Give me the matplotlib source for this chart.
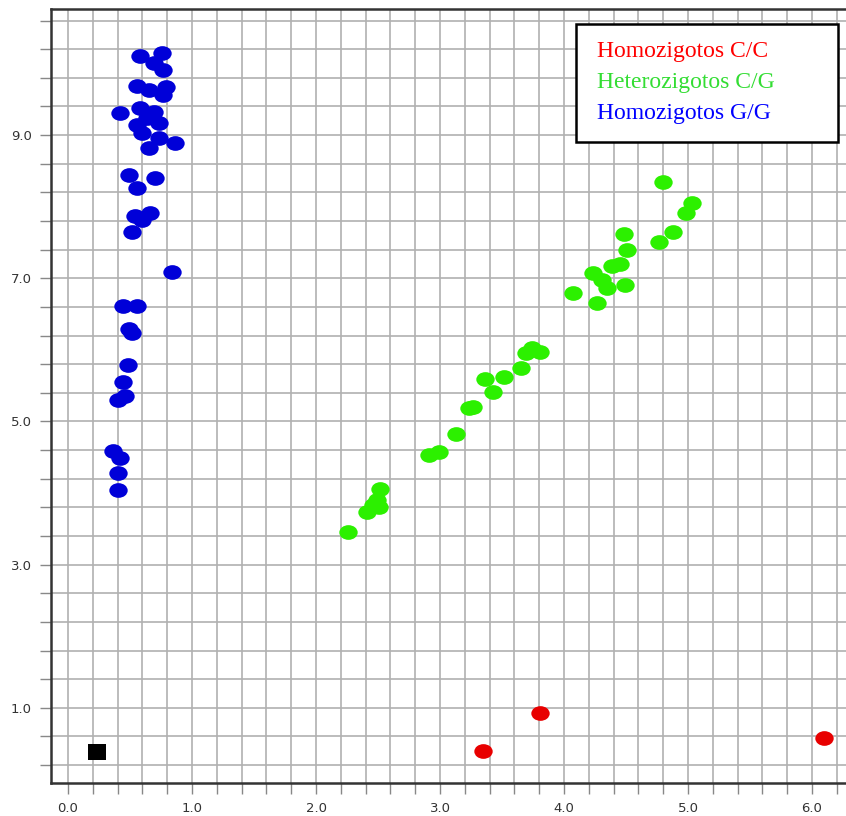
import matplotlib
matplotlib.use("Agg")
import matplotlib.pyplot as plt
import numpy as np
from matplotlib.path import Path
from matplotlib.transforms import Affine2D
from matplotlib.patches import Rectangle

# genotype clusters (x, y)
gg_x = [0.58, 0.76, 0.69, 0.77, 0.56, 0.65, 0.79, 0.77, 0.42, 0.58, 0.69, 0.56, 0.64,
        0.73, 0.60, 0.73, 0.65, 0.86, 0.49, 0.56, 0.70, 0.54, 0.66, 0.60, 0.52, 0.84,
        0.44, 0.56, 0.49, 0.52, 0.48, 0.44, 0.46, 0.40, 0.36, 0.42, 0.40, 0.40]
gg_y = [10.10, 10.15, 10.01, 9.91, 9.68, 9.63, 9.67, 9.56, 9.31, 9.38, 9.32, 9.14, 9.24,
        9.17, 9.03, 8.96, 8.82, 8.89, 8.44, 8.26, 8.40, 7.87, 7.91, 7.81, 7.65, 7.09,
        6.61, 6.61, 6.29, 6.23, 5.79, 5.55, 5.35, 5.30, 4.59, 4.49, 4.28, 4.04]

cg_x = [2.26, 2.41, 2.46, 2.49, 2.52, 2.51, 2.91, 2.99, 3.13, 3.23, 3.27, 3.36, 3.43,
        3.52, 3.65, 3.69, 3.74, 3.81, 4.07, 4.27, 4.23, 4.31, 4.35, 4.39, 4.45, 4.49,
        4.51, 4.48, 4.77, 4.88, 4.98, 5.03, 4.80]
cg_y = [3.46, 3.73, 3.83, 3.90, 4.06, 3.80, 4.53, 4.57, 4.82, 5.19, 5.20, 5.59, 5.41,
        5.62, 5.75, 5.96, 6.03, 5.97, 6.79, 6.65, 7.07, 6.97, 6.86, 7.17, 7.20, 6.90,
        7.39, 7.62, 7.51, 7.65, 7.91, 8.05, 8.34]

cc_x = [3.35, 3.81, 6.10]
cc_y = [0.40, 0.93, 0.58]

ntc_x = [0.23]
ntc_y = [0.38]

labels = ["Homozigotos C/C", "Heterozigotos C/G", "Homozigotos G/G"]
label_colors = ["#ff0000", "#33dd33", "#0000ff"]

# slightly flattened markers like the original software
ellipse = Path.unit_circle().transformed(Affine2D().scale(1.0, 0.8))
square = Path([(-1, -0.85), (1, -0.85), (1, 0.85), (-1, 0.85), (-1, -0.85)],
              [Path.MOVETO, Path.LINETO, Path.LINETO, Path.LINETO, Path.CLOSEPOLY])

fig = plt.figure(figsize=(8.46, 8.16), dpi=100)
ax = fig.add_axes([0.0603, 0.0404, 0.9397, 0.9485])

ax.scatter(gg_x, gg_y, marker=ellipse, s=175, c="#0000d8", linewidths=0, zorder=3)
ax.scatter(cg_x, cg_y, marker=ellipse, s=175, c="#2cf000", linewidths=0, zorder=3)
ax.scatter(cc_x, cc_y, marker=ellipse, s=175, c="#e80000", linewidths=0, zorder=3)
ax.scatter(ntc_x, ntc_y, marker=square, s=170, c="black", linewidths=0, zorder=3)

ax.set_xlim(-0.137, 6.274)
ax.set_ylim(-0.05, 10.76)

ax.set_xticks(np.arange(0, 6.01, 1.0))
ax.set_xticks(np.arange(0, 6.21, 0.2), minor=True)
ax.set_yticks([1.0, 3.0, 5.0, 7.0, 9.0])
ax.set_yticks(np.arange(0.2, 10.61, 0.4), minor=True)
ax.xaxis.set_major_formatter(matplotlib.ticker.FormatStrFormatter("%.1f"))
ax.yaxis.set_major_formatter(matplotlib.ticker.FormatStrFormatter("%.1f"))

ax.grid(which="both", color="#b0b0b0", linewidth=1.2, zorder=0)
ax.set_axisbelow(True)
ax.tick_params(which="both", direction="out", length=8, width=1.0, color="#888888",
               labelsize=9.5, labelcolor="#333333", pad=6)
ax.xaxis.set_ticks_position("bottom")
ax.yaxis.set_ticks_position("left")

for side in ["left", "top", "bottom"]:
    ax.spines[side].set_color("#333333")
    ax.spines[side].set_linewidth(1.8)
ax.spines["right"].set_visible(False)

# legend box drawn by hand, in axes fractions
ax.add_patch(Rectangle((0.660, 0.828), 0.330, 0.153, transform=ax.transAxes,
                       facecolor="white", edgecolor="black", linewidth=1.8, zorder=5))
for i, (lab, col) in enumerate(zip(labels, label_colors)):
    ax.text(0.687, 0.945 - i * 0.040, lab, color=col, fontsize=17,
            family="Liberation Serif", va="center", ha="left", zorder=6,
            transform=ax.transAxes)

fig.savefig("out.png", dpi=100)
